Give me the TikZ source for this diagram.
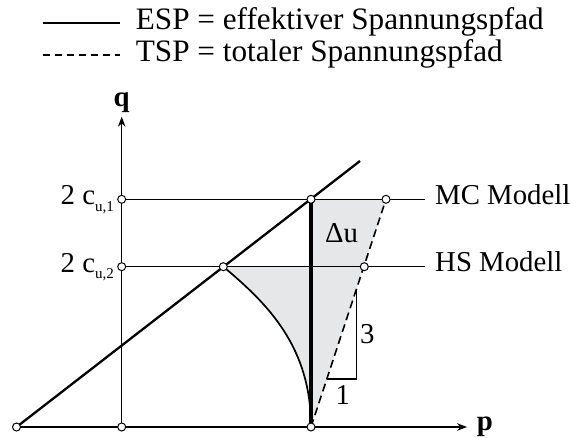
\documentclass[tikz,border=0pt]{standalone}
\usepackage{fontspec}
\setmainfont{Liberation Serif}
\usetikzlibrary{arrows.meta}
\begin{document}
\begin{tikzpicture}[x=1pt,y=-1pt,
  thinline/.style={line width=1.2pt},
  esp/.style={line width=2.3pt},
  espv/.style={line width=3.2pt},
  curveline/.style={line width=1.7pt},
  tsp/.style={line width=1.6pt, dash pattern=on 8pt off 4.5pt},
  legdash/.style={line width=1.2pt, dash pattern=on 7pt off 5pt},
  pnt/.style={circle, draw, fill=white, line width=1pt, inner sep=0pt, minimum size=8pt},
  lbl/.style={inner sep=0pt, font=\fontsize{28.8}{34}\selectfont},
  leglbl/.style={inner sep=0pt, font=\fontsize{31.2}{36}\selectfont},
  grayfill/.style={fill={rgb,255:red,230;green,231;blue,233}},
  axarrow/.style={-{Stealth[length=10pt,width=7.5pt]}}
]
\useasboundingbox (0,0) rectangle (572,438);
% coordinates
\coordinate (O) at (16.5,427);
\coordinate (Q0) at (121.7,427);
\coordinate (P0) at (311,427);
\coordinate (Q1) at (121.7,199.3);
\coordinate (Q2) at (121.7,266.7);
\coordinate (A) at (311,199.3);
\coordinate (B) at (386,199.3);
\coordinate (C) at (223.3,266.7);
\coordinate (D) at (364.3,266.7);
\coordinate (H) at (311,266.7);
\coordinate (E) at (360,161);
\coordinate (QT) at (121.7,116.7);
\coordinate (PT) at (467,427);
\coordinate (M1) at (425,199.3);
\coordinate (M2) at (425,266.7);
\coordinate (T1) at (326.7,379);
\coordinate (T2) at (356.7,379);
\coordinate (T3) at (356.7,290);
\coordinate (L1a) at (42.7,22.7);
\coordinate (L1b) at (120,22.7);
\coordinate (L2a) at (42.7,55);
\coordinate (L2b) at (120,55);
% fill
\fill[grayfill] (A) -- (B) -- (P0) .. controls (311,347) and (268,304) .. (C) -- (H) -- cycle;
% lines
\draw[thinline] (Q1) -- (M1);
\draw[thinline] (Q2) -- (M2);
\draw[thinline, axarrow] (Q0) -- (QT);
\draw[thinline, axarrow] (Q0) -- (PT);
\draw[esp] (O) -- (Q0);
\draw[esp] (O) -- (E);
\draw[espv] (P0) -- (A);
\draw[curveline] (C) .. controls (268,304) and (311,347) .. (P0);
\draw[tsp] (P0) -- (B);
\draw[thinline] (T1) -- (T2) -- (T3);
% legend
\draw[esp] (L1a) -- (L1b);
\draw[legdash] (L2a) -- (L2b);
% points
\node[pnt] (cO) at (O) {};
\node[pnt] (cQ0) at (Q0) {};
\node[pnt] (cP0) at (P0) {};
\node[pnt] (cQ1) at (Q1) {};
\node[pnt] (cQ2) at (Q2) {};
\node[pnt] (cA) at (A) {};
\node[pnt] (cB) at (B) {};
\node[pnt] (cC) at (C) {};
\node[pnt] (cD) at (D) {};
% labels
\node[leglbl, anchor=base west] (esptxt) at (135.7,30) {ESP = effektiver Spannungspfad};
\node[leglbl, anchor=base west] (tsptxt) at (135.7,61.7) {TSP = totaler Spannungspfad};
\node[lbl, anchor=base] (qlbl) at (121.7,106.7) {\textbf{q}};
\node[lbl, anchor=base west] (plbl) at (476.7,430) {\textbf{p}};
\node[lbl, anchor=base west] (mc) at (435,205) {MC Modell};
\node[lbl, anchor=base west] (hs) at (435,271) {HS Modell};
\node[lbl, anchor=base west] (du) at (325,242.7) {Δu};
\node[lbl, anchor=base] (three) at (367.3,343) {3};
\node[lbl, anchor=base] (one) at (342.7,404) {1};
\node[lbl, anchor=base east] (cu1) at (114,205) {2 c\raisebox{-6pt}{\fontsize{15}{15}\selectfont u,1}};
\node[lbl, anchor=base east] (cu2) at (114,272) {2 c\raisebox{-6pt}{\fontsize{15}{15}\selectfont u,2}};
\end{tikzpicture}
\end{document}
